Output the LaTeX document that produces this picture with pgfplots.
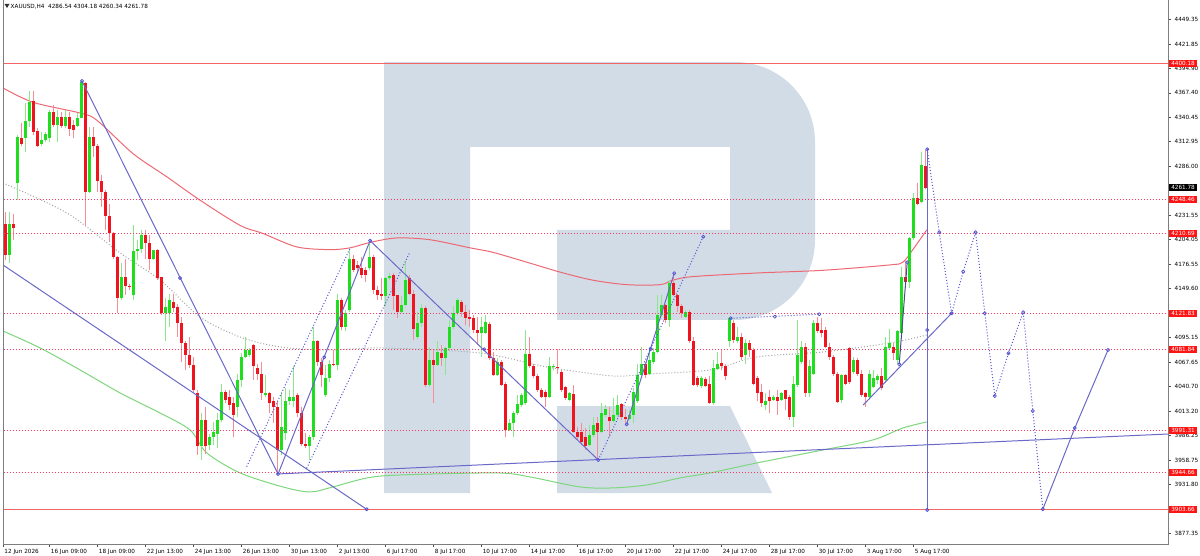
\documentclass[border=0pt]{standalone}
\usepackage{pgfplots}
\pgfplotsset{compat=1.18}
\usepackage{pgfplotstable}
\usepackage{fontspec}
\setmainfont{DejaVu Sans}
\definecolor{bodyG}{RGB}{30,222,30}
\definecolor{bodyR}{RGB}{240,20,30}
\definecolor{wickG}{RGB}{140,230,140}
\definecolor{wickR}{RGB}{245,140,150}
\definecolor{maR}{RGB}{236,105,115}
\definecolor{maG}{RGB}{125,215,125}
\definecolor{maGray}{RGB}{165,165,165}
\definecolor{tl}{RGB}{105,105,200}
\definecolor{tld}{RGB}{85,85,210}
\definecolor{lvlred}{RGB}{245,60,100}
\definecolor{lvlsolid}{RGB}{245,100,100}
\definecolor{boxred}{RGB}{255,20,20}
\definecolor{logo}{RGB}{210,220,231}
\definecolor{frame}{RGB}{125,125,125}

\pgfplotstableread{
i O H L C
0 4185 4230 4174 4224
1 4222 4235 4181 4187
2 4187 4235 4178 4222
3 4222 4233 4204 4217
4 4267 4321 4248 4318
5 4317 4334 4308 4311
6 4317 4356 4302 4336
7 4336 4369 4330 4357
8 4358 4369 4321 4324
9 4325 4328 4307 4308
10 4311 4324 4308 4315
11 4315 4324 4313 4322
12 4317 4348 4313 4346
13 4346 4354 4330 4332
14 4332 4348 4313 4341
15 4341 4346 4328 4331
16 4331 4348 4328 4341
17 4341 4346 4319 4327
18 4332 4337 4317 4326
19 4331 4345 4330 4340
20 4340 4382 4339 4380
21 4379 4380 4219 4257
22 4257 4330 4256 4318
23 4318 4330 4296 4308
24 4308 4311 4257 4269
25 4269 4276 4241 4257
26 4257 4259 4215 4230
27 4230 4244 4202 4211
28 4211 4213 4183 4185
29 4185 4186 4122 4139
30 4139 4178 4137 4163
31 4163 4183 4142 4152
32 4152 4155 4148 4151
33 4142 4220 4137 4191
34 4191 4204 4181 4194
35 4194 4215 4189 4209
36 4209 4215 4183 4200
37 4200 4209 4170 4183
38 4183 4193 4182 4193
39 4193 4194 4159 4161
40 4162 4163 4120 4122
41 4122 4139 4091 4129
42 4122 4144 4107 4137
43 4135 4144 4124 4128
44 4129 4133 4096 4111
45 4111 4118 4068 4089
46 4089 4091 4059 4076
47 4076 4096 4061 4065
48 4065 4074 4033 4037
49 4033 4037 3964 3974
50 3974 4011 3959 4003
51 4003 4018 3966 3974
52 3976 3988 3970 3985
53 3985 4001 3976 3990
54 3988 4011 3972 4003
55 4003 4044 4001 4034
56 4034 4037 4022 4026
57 4029 4037 4014 4020
58 4022 4029 3985 4009
59 4018 4055 4007 4048
60 4048 4078 4040 4074
61 4074 4096 4072 4081
62 4076 4083 4074 4081
63 4087 4088 4048 4063
64 4061 4066 4048 4055
65 4055 4068 4026 4033
66 4031 4053 4029 4033
67 4033 4035 4011 4022
68 4024 4029 4000 4018
69 4018 4024 3943 3970
70 3970 4033 3964 3996
71 3989 4039 3981 4024
72 4024 4037 4020 4029
73 4024 4063 4018 4029
74 4031 4033 4007 4011
75 4011 4018 3974 3977
76 3977 3989 3972 3974
77 3974 3987 3959 3985
78 3985 4107 3981 4091
79 4091 4092 4063 4068
80 4068 4072 4040 4053
81 4031 4065 4029 4050
82 4050 4070 4046 4066
83 4066 4081 4063 4065
84 4065 4144 4059 4137
85 4137 4139 4104 4107
86 4107 4126 4102 4122
87 4126 4194 4124 4183
88 4183 4187 4168 4170
89 4176 4180 4168 4172
90 4172 4185 4161 4165
91 4170 4174 4157 4165
92 4172 4203 4170 4185
93 4185 4187 4144 4148
94 4148 4152 4137 4142
95 4144 4161 4137 4141
96 4141 4163 4130 4161
97 4161 4167 4159 4164
98 4165 4167 4126 4141
99 4142 4143 4117 4124
100 4124 4141 4122 4131
101 4131 4180 4130 4159
102 4161 4165 4142 4144
103 4144 4148 4092 4105
104 4096 4124 4094 4111
105 4111 4133 4107 4128
106 4128 4130 4040 4042
107 4042 4085 4040 4070
108 4070 4081 4022 4065
109 4065 4091 4063 4079
110 4078 4087 4063 4072
111 4072 4085 4053 4083
112 4083 4115 4081 4107
113 4107 4130 4105 4122
114 4122 4139 4120 4137
115 4135 4137 4118 4124
116 4124 4131 4109 4117
117 4118 4126 4107 4116
118 4117 4120 4100 4104
119 4104 4118 4087 4100
120 4100 4118 4074 4107
121 4100 4120 4099 4112
122 4110 4112 4070 4072
123 4072 4079 4052 4053
124 4053 4072 4052 4068
125 4068 4070 4041 4042
126 4044 4046 3985 3992
127 3992 4005 3991 4000
128 4000 4013 3985 4011
129 4011 4031 4009 4021
130 4020 4033 4018 4031
131 4022 4104 4020 4077
132 4077 4096 4061 4063
133 4064 4066 4050 4052
134 4052 4055 4035 4037
135 4037 4039 4028 4029
136 4035 4037 4018 4029
137 4029 4074 4028 4063
138 4062 4066 4059 4063
139 4062 4082 4055 4061
140 4057 4059 4035 4037
141 4040 4041 4026 4028
142 4026 4035 4025 4033
143 4032 4042 3989 3990
144 3990 3996 3981 3985
145 3990 4000 3977 3979
146 3985 3994 3970 3974
147 3976 3998 3974 3987
148 3987 4007 3985 3998
149 4000 4007 3959 3990
150 3990 4022 3989 4011
151 4009 4020 4007 4016
152 4007 4018 3985 4002
153 4002 4028 4000 4009
154 4009 4031 4007 4020
155 4021 4022 4003 4007
156 4007 4016 4000 4004
157 4004 4015 4003 4009
158 4009 4039 4000 4035
159 4024 4066 4022 4053
160 4053 4085 4052 4066
161 4066 4068 4050 4053
162 4055 4085 4053 4070
163 4068 4083 4066 4079
164 4079 4143 4078 4120
165 4120 4143 4118 4131
166 4131 4133 4111 4115
167 4115 4159 4107 4156
168 4156 4167 4141 4143
169 4143 4144 4124 4130
170 4130 4133 4117 4122
171 4118 4126 4117 4124
172 4124 4126 4089 4091
173 4091 4096 4041 4042
174 4050 4052 4040 4042
175 4041 4052 4039 4050
176 4049 4051 4040 4041
177 4044 4052 4021 4022
178 4022 4070 4020 4061
179 4060 4079 4059 4066
180 4067 4081 4059 4063
181 4063 4066 4048 4052
182 4091 4118 4085 4117
183 4111 4115 4089 4092
184 4091 4107 4089 4096
185 4096 4100 4070 4074
186 4076 4094 4066 4089
187 4089 4092 4074 4081
188 4081 4083 4042 4044
189 4050 4052 4024 4033
190 4035 4044 4018 4022
191 4020 4033 4014 4024
192 4029 4037 4011 4024
193 4026 4031 4024 4029
194 4029 4037 4009 4024
195 4026 4035 4024 4033
196 4037 4037 4014 4027
197 4029 4031 4003 4007
198 4007 4052 3996 4044
199 4042 4115 4040 4076
200 4068 4091 4066 4085
201 4085 4089 4029 4033
202 4033 4070 4029 4063
203 4055 4115 4053 4111
204 4111 4118 4100 4102
205 4104 4117 4096 4100
206 4104 4107 4083 4085
207 4085 4089 4070 4074
208 4074 4076 4052 4055
209 4055 4057 4022 4023
210 4026 4055 4022 4053
211 4053 4055 4042 4044
212 4083 4085 4044 4046
213 4057 4074 4055 4070
214 4070 4072 4052 4055
215 4055 4059 4029 4031
216 4033 4035 4018 4029
217 4029 4059 4026 4055
218 4040 4059 4039 4050
219 4048 4055 4044 4052
220 4052 4061 4037 4039
221 4048 4096 4046 4085
222 4083 4105 4081 4089
223 4085 4089 4070 4078
224 4070 4103 4066 4102
225 4100 4174 4098 4163
226 4163 4180 4154 4157
227 4157 4207 4150 4206
228 4206 4256 4204 4250
229 4250 4267 4243 4244
230 4246 4302 4245 4287
231 4286.54 4304.18 4260.34 4261.78
}\candles

\pgfplotstableread{
x y
0.3 4373
7.8 4357
19.6 4345
23.8 4337
32.8 4300
41.3 4274
49.6 4248
59.6 4220
65.3 4211
73.8 4196
82.1 4193
87.1 4195
92.1 4201
98.8 4206
107.1 4204
117.1 4195
122.8 4190
131.3 4179
139.6 4168
147.8 4159
156.3 4154
164.6 4154
167.8 4159
172.8 4163
188.8 4167
205.3 4170
222.1 4176
225.3 4179
227.8 4193
231.3 4215
}\mared

\pgfplotstableread{
x y
0.3 4102.5
9.6 4083.6
19.6 4059.1
29.6 4033.5
39.6 4011.2
47.1 3992.3
51.3 3966.7
59.6 3944.5
70.3 3928.9
77.1 3923.3
82.8 3928.9
91.3 3938.9
99.6 3942.2
123.8 3944.5
132.1 3940.0
144.6 3928.9
152.8 3927.8
161.3 3931.1
169.6 3938.9
177.1 3944.5
188.8 3955.6
205.3 3970.0
217.8 3981.2
225.3 3994.5
231.3 4001.2
}\magreen

\pgfplotstableread{
x y
0.3 4267.2
16.3 4233.8
29.6 4189.3
39.6 4159.2
49.6 4118.0
59.6 4095.8
69.6 4084.7
82.1 4081.3
94.6 4083.6
119.6 4078.0
136.3 4062.4
152.8 4052.4
161.3 4054.6
177.1 4059.1
188.8 4073.5
205.3 4079.1
222.1 4089.1
231.3 4098.0
}\magray

\pgfplotstableread{
x y
0.5 4400.18
291.5 4400.18
nan nan
0.5 3903.66
291.5 3903.66
}\lvlsolidtab

\pgfplotstableread{
x y
0.5 4248.46
291.5 4248.46
nan nan
0.5 4210.69
291.5 4210.69
nan nan
0.5 4121.83
291.5 4121.83
nan nan
0.5 4081.84
291.5 4081.84
nan nan
0.5 3991.31
291.5 3991.31
nan nan
0.5 3944.66
291.5 3944.66
}\lvldottab

\newcommand{\tf}{\fontsize{5.7}{6.5}\selectfont}

\begin{document}
\begin{tikzpicture}
\useasboundingbox (0,0) rectangle (1200pt,555pt);
\fill[white] (0,0) rectangle (1200pt,555pt);
\begin{scope}[x=1pt,y=-1pt,shift={(0pt,555pt)}]
\fill[logo] (384,62) -- (735,62) arc[start angle=-90,end angle=0,radius=80] -- (815,240)
  arc[start angle=0,end angle=90,radius=80] -- (557,320) -- (557,230) -- (730,230) -- (730,147)
  -- (470,147) -- (470,493) -- (384,493) -- cycle;
\fill[logo] (557,406) -- (730,406) -- (772,493) -- (557,493) -- cycle;
\end{scope}
\begin{axis}[
  at={(3pt,11pt)}, anchor=south west,
  scale only axis, width=1165pt, height=541pt,
  xmin=0.325, xmax=291.6, ymin=3865.4, ymax=4467.5,
  axis line style={draw=none},
  tick align=outside, major tick length=3pt,
  tick style={draw=black!70, line width=0.8pt},
  xtick pos=bottom, ytick pos=right, yticklabel pos=right,
  unbounded coords=jump,
  xtick={0.4,12,24,36,48,60,72,84,96,108,120,132,144,156,168,180,192,204,216,228},
  xticklabels={12 Jun 2026,16 Jun 09:00,18 Jun 09:00,22 Jun 13:00,24 Jun 13:00,26 Jun 13:00,30 Jun 13:00,2 Jul 13:00,6 Jul 17:00,8 Jul 17:00,10 Jul 17:00,14 Jul 17:00,16 Jul 17:00,20 Jul 17:00,22 Jul 17:00,24 Jul 17:00,28 Jul 17:00,30 Jul 17:00,3 Aug 17:00,5 Aug 17:00},
  ytick={4449.35,4421.85,4394.90,4367.40,4340.45,4312.95,4286.00,4258.50,4231.55,4204.05,4176.55,4149.60,4122.10,4095.15,4067.65,4040.70,4013.20,3986.25,3958.75,3931.80,3904.30,3877.35},
  yticklabels={4449.35,4421.85,4394.90,4367.40,4340.45,4312.95,4286.00,{},4231.55,4204.05,4176.55,4149.60,{},4095.15,4067.65,4040.70,4013.20,3986.25,3958.75,3931.80,{},3877.35},
  xticklabel style={anchor=north west, inner sep=0pt, xshift=1pt, yshift=-1.8pt, font=\tf},
  yticklabel style={anchor=west, inner sep=0pt, xshift=3.5pt, font=\tf},
  every axis plot/.append style={line join=round},
]
% moving averages
\addplot[color=maGray, line width=1pt, dash pattern=on 1pt off 2pt, smooth] table[x=x,y=y] {\magray};
\addplot[color=maG, line width=1pt, smooth] table[x=x,y=y] {\magreen};
\addplot[color=maR, line width=1pt, smooth] table[x=x,y=y] {\mared};
% candles: wicks (bars of the other colour are moved far below the visible range)
\addplot[draw=none, mark=none, error bars/.cd, y dir=plus, y explicit, error mark=none,
  error bar style={draw=wickG, line width=1pt}]
  table[x=i, y expr={\thisrow{C}<\thisrow{O} ? 3000 : \thisrow{L}}, y error expr={\thisrow{H}-\thisrow{L}}] {\candles};
\addplot[draw=none, mark=none, error bars/.cd, y dir=plus, y explicit, error mark=none,
  error bar style={draw=wickR, line width=1pt}]
  table[x=i, y expr={\thisrow{C}<\thisrow{O} ? \thisrow{L} : 3000}, y error expr={\thisrow{H}-\thisrow{L}}] {\candles};
% candles: bodies
\addplot[draw=none, mark=none, error bars/.cd, y dir=plus, y explicit, error mark=none,
  error bar style={draw=bodyG, line width=3pt}]
  table[x=i, y expr={\thisrow{C}<\thisrow{O} ? 3000 : \thisrow{O}}, y error expr={abs(\thisrow{C}-\thisrow{O})}] {\candles};
\addplot[draw=none, mark=none, error bars/.cd, y dir=plus, y explicit, error mark=none,
  error bar style={draw=bodyR, line width=3pt}]
  table[x=i, y expr={\thisrow{C}<\thisrow{O} ? \thisrow{C} : 3000}, y error expr={abs(\thisrow{O}-\thisrow{C})}] {\candles};
% levels
\addplot[draw=lvlsolid, solid, line width=1pt, mark=none] table[x=x,y=y] {\lvlsolidtab};
\addplot[draw=lvlred, line width=1pt, mark=none, dash pattern=on 1pt off 2pt] table[x=x,y=y] {\lvldottab};
% trend lines (solid)
\addplot[color=tl, line width=1pt] coordinates {(20.08,4380.7) (69.1,3943.3)};
\addplot[color=tl, line width=1pt] coordinates {(0.325,4175.9) (91.25,3904)};
\addplot[color=tl, line width=1pt] coordinates {(69.1,3943.3) (92.1,4203)};
\addplot[color=tl, line width=1pt] coordinates {(92.1,4203) (149.15,3958.9)};
\addplot[color=tl, line width=1pt] coordinates {(156.25,3998.6) (168.15,4166.7)};
\addplot[color=tl, line width=1pt] coordinates {(68.8,3943.3) (291.6,3987.8)};
\addplot[color=tl, line width=1pt] coordinates {(215.4,4020.1) (237.5,4122.2)};
\addplot[color=tl, line width=1pt] coordinates {(231.4,4304.7) (231.4,3903.3)};
\addplot[color=tl!70!black, line width=1pt] coordinates {(224.4,4065.4) (226.4,4178.9)};
\addplot[color=tl, line width=1pt] coordinates {(260.3,3904.1) (268.3,3994.5) (276.6,4081.3)};
% dotted lines
\addplot[color=tld, line width=1pt, dash pattern=on 1pt off 2pt] coordinates {(61.25,3951.5) (87.1,4194.5)};
\addplot[color=tld, line width=1pt, dash pattern=on 1pt off 2pt] coordinates {(76.25,3949.7) (102.1,4190.7)};
\addplot[color=tld, line width=1pt, dash pattern=on 1pt off 2pt] coordinates {(149.15,3958.9) (175.4,4207.4)};
\addplot[color=tld, line width=1pt, dash pattern=on 1pt off 2pt] coordinates {(182.25,4116.6) (204.4,4121.1)};
\addplot[color=tld, line width=1pt, dash pattern=on 1pt off 2pt] coordinates {(231.4,4304.7) (234.4,4212.3) (237.5,4122.2) (240.4,4168.5) (243.5,4212.3) (245.8,4122.2) (248.3,4030.1) (251.7,4077.6) (255.4,4123.3) (257.8,4013.4) (260.3,3904.1)};
% circles
\addplot[only marks, mark=o, mark size=1.6pt, color=tld, mark options={solid, draw=tld, fill=none, line width=0.8pt}] coordinates {
(20.08,4380.7) (44.6,4161.4) (69.1,3943.3) (80.65,4073.2) (92.1,4203) (91.25,3904) (120.65,4082.1)
(149.15,3958.9) (156.25,3998.6) (162.25,4082.4) (168.15,4166.7) (175.4,4207.4) (182.25,4116.6)
(193.3,4118.4) (204.4,4121.1) (224.4,4065.4) (226.4,4178.9) (231.4,4304.7) (231.4,4103.6) (231.4,3903.3)
(234.4,4212.3) (237.5,4122.2) (240.4,4168.5) (243.5,4212.3) (245.8,4122.2) (248.3,4030.1) (251.7,4077.6)
(255.4,4123.3) (257.8,4013.4) (260.3,3904.1) (268.3,3994.5) (276.6,4081.3)};
% label anchors
\coordinate (b1) at (axis cs:291.6,4400.18);
\coordinate (b2) at (axis cs:291.6,4261.78);
\coordinate (b3) at (axis cs:291.6,4248.46);
\coordinate (b4) at (axis cs:291.6,4210.69);
\coordinate (b5) at (axis cs:291.6,4121.83);
\coordinate (b6) at (axis cs:291.6,4081.84);
\coordinate (b7) at (axis cs:291.6,3991.31);
\coordinate (b8) at (axis cs:291.6,3944.66);
\coordinate (b9) at (axis cs:291.6,3903.66);
\end{axis}
\begin{scope}[x=1pt,y=-1pt,shift={(0pt,555pt)}]
\draw[frame, line width=1pt] (3,0) -- (3,544) -- (1168,544) -- (1168,0);
\fill[black!80] (4.5,4) -- (9.5,4) -- (7,8) -- cycle;
\node[anchor=west, inner sep=0pt, font=\tf] at (10.5,6.5) {XAUUSD,H4\ \ 4286.54 4304.18 4260.34 4261.78};
\end{scope}
\tikzset{bx/.style={anchor=west, text=white, inner xsep=2.1pt, inner ysep=1.4pt, xshift=1pt, font=\tf}}
\foreach \c/\t in {b1/4400.18,b3/4248.46,b4/4210.69,b5/4121.83,b6/4081.84,b7/3991.31,b8/3944.66,b9/3903.66}{
  \node[bx, fill=boxred] at (\c) {\t};
}
\node[bx, fill=black] at (b2) {4261.78};
\end{tikzpicture}
\end{document}
